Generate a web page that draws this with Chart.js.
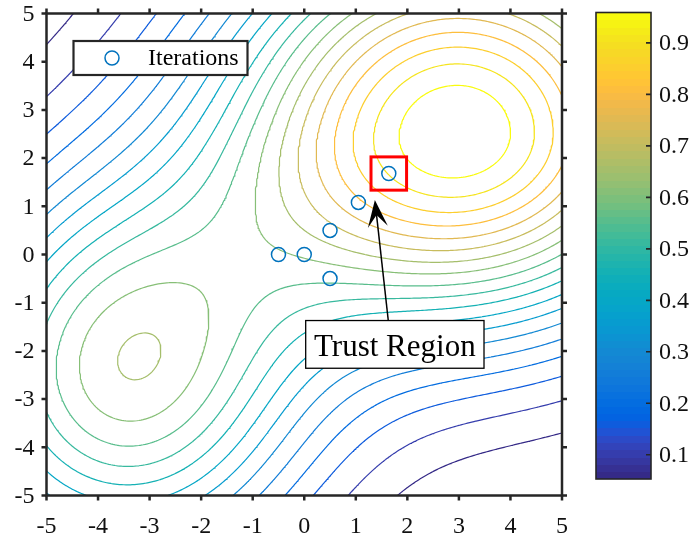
<!DOCTYPE html>
<html>
<head>
<meta charset="utf-8">
<script src="https://cdn.jsdelivr.net/npm/chart.js@4/dist/chart.umd.min.js"></script>
<style>
  html, body { margin: 0; padding: 0; background: #ffffff; }
  #wrap { width: 692px; height: 540px; }
</style>
</head>
<body>
<div id="wrap"><canvas id="c" width="692" height="540"></canvas></div>
<script>
// ---- axes ----
const xTicks = [-5, -4, -3, -2, -1, 0, 1, 2, 3, 4, 5];
const yTicks = [-5, -4, -3, -2, -1, 0, 1, 2, 3, 4, 5];
const colorbarTicks = [0.1, 0.2, 0.3, 0.4, 0.5, 0.6, 0.7, 0.8, 0.9];

// ---- contour levels of the objective ----
const levels = [0.053, 0.103, 0.154, 0.204, 0.254, 0.305, 0.355, 0.405, 0.456, 0.506,
                0.556, 0.607, 0.657, 0.707, 0.757, 0.808, 0.858, 0.908, 0.959];

// ---- objective: two smooth bumps on a small negative base ----
const bumpX      = [3.0, -3.48];
const bumpY      = [2.53, -2.48];
const bumpAmp    = [1.033, 0.655];
const bumpWx     = [22, 13];
const bumpWyUp   = [20.5, 17];
const bumpWyDown = [16.4, 17];
const baseLevel  = -0.03;

// ---- optimiser iterates ----
const iterX = [-0.5, 0, 0.5, 0.5, 1.05, 1.64];
const iterY = [0, 0, 0.5, -0.5, 1.08, 1.68];

// ---- annotation (data coordinates) ----
const trustHalf = 0.345;                      // half side of the trust region around the last iterate
const arrowFrom = { x: 1.63, y: -1.37 };
const arrowTo   = { x: 1.37, y: 1.13 };
const noteBox   = { x0: 0.028, x1: 3.487, y0: -1.37, y1: -2.36, text: 'Trust Region' };

// parula colour map (64 entries)
const PARULA = [
[0.2081,0.1663,0.5292],[0.2116,0.1898,0.5777],[0.2123,0.2138,0.6270],[0.2081,0.2386,0.6771],
[0.1959,0.2645,0.7279],[0.1707,0.2919,0.7792],[0.1253,0.3242,0.8303],[0.0591,0.3598,0.8683],
[0.0117,0.3875,0.8820],[0.0060,0.4086,0.8828],[0.0165,0.4266,0.8786],[0.0329,0.4430,0.8720],
[0.0498,0.4586,0.8641],[0.0629,0.4737,0.8554],[0.0723,0.4887,0.8467],[0.0779,0.5040,0.8384],
[0.0793,0.5200,0.8312],[0.0749,0.5375,0.8263],[0.0641,0.5570,0.8240],[0.0488,0.5772,0.8228],
[0.0343,0.5966,0.8199],[0.0265,0.6137,0.8135],[0.0239,0.6287,0.8038],[0.0231,0.6418,0.7913],
[0.0228,0.6535,0.7768],[0.0267,0.6642,0.7607],[0.0384,0.6743,0.7436],[0.0590,0.6838,0.7254],
[0.0843,0.6928,0.7062],[0.1133,0.7015,0.6859],[0.1453,0.7098,0.6646],[0.1801,0.7177,0.6424],
[0.2178,0.7250,0.6193],[0.2586,0.7317,0.5954],[0.3022,0.7376,0.5712],[0.3482,0.7424,0.5473],
[0.3953,0.7459,0.5244],[0.4420,0.7481,0.5033],[0.4871,0.7491,0.4840],[0.5300,0.7491,0.4661],
[0.5709,0.7485,0.4494],[0.6099,0.7473,0.4337],[0.6473,0.7456,0.4188],[0.6834,0.7435,0.4044],
[0.7184,0.7411,0.3905],[0.7525,0.7384,0.3768],[0.7858,0.7356,0.3633],[0.8185,0.7327,0.3498],
[0.8507,0.7299,0.3360],[0.8824,0.7274,0.3217],[0.9139,0.7258,0.3063],[0.9450,0.7261,0.2886],
[0.9739,0.7314,0.2666],[0.9938,0.7455,0.2403],[0.9990,0.7653,0.2164],[0.9955,0.7861,0.1967],
[0.9880,0.8066,0.1794],[0.9789,0.8271,0.1633],[0.9697,0.8481,0.1475],[0.9626,0.8705,0.1309],
[0.9589,0.8949,0.1132],[0.9598,0.9218,0.0948],[0.9661,0.9514,0.0755],[0.9763,0.9831,0.0538]];

const cMin = levels[0], cMax = levels[levels.length - 1];
function parulaIndex(v) {
  let i = Math.floor((v - cMin) / (cMax - cMin) * PARULA.length);
  return Math.max(0, Math.min(PARULA.length - 1, i));
}
function rgb(c) {
  return 'rgb(' + c.map(u => Math.round(u * 255)).join(',') + ')';
}
function levelColor(v) { return rgb(PARULA[parulaIndex(v)]); }

function surface(x, y) {
  let v = baseLevel;
  for (let k = 0; k < bumpX.length; k++) {
    const dx = x - bumpX[k], dy = y - bumpY[k];
    const wy = dy >= 0 ? bumpWyUp[k] : bumpWyDown[k];
    v += bumpAmp[k] * Math.exp(-dx * dx / bumpWx[k] - dy * dy / wy);
  }
  return v;
}

// sample the surface on a regular grid
const N = 240, X0 = -5, X1 = 5, Y0 = -5, Y1 = 5;
const gx = i => X0 + (X1 - X0) * i / N;
const gy = j => Y0 + (Y1 - Y0) * j / N;
const Z = [];
for (let j = 0; j <= N; j++) {
  const row = new Float64Array(N + 1);
  for (let i = 0; i <= N; i++) row[i] = surface(gx(i), gy(j));
  Z.push(row);
}

// marching squares: returns the polylines of one iso level
function isoLines(level) {
  const pts = new Map(), adj = new Map();
  const link = (a, b) => {
    if (!adj.has(a)) adj.set(a, []);
    if (!adj.has(b)) adj.set(b, []);
    adj.get(a).push(b); adj.get(b).push(a);
  };
  for (let j = 0; j < N; j++) {
    for (let i = 0; i < N; i++) {
      const v = [Z[j][i], Z[j][i + 1], Z[j + 1][i + 1], Z[j + 1][i]];
      const c = [[gx(i), gy(j)], [gx(i + 1), gy(j)], [gx(i + 1), gy(j + 1)], [gx(i), gy(j + 1)]];
      const up = v.map(a => a > level);
      const edges = [
        { a: 0, b: 1, key: 'h' + i + ',' + j },
        { a: 1, b: 2, key: 'v' + (i + 1) + ',' + j },
        { a: 3, b: 2, key: 'h' + i + ',' + (j + 1) },
        { a: 0, b: 3, key: 'v' + i + ',' + j }
      ];
      const hit = [];
      for (let e = 0; e < 4; e++) {
        const E = edges[e];
        if (up[E.a] !== up[E.b]) {
          if (!pts.has(E.key)) {
            const t = (level - v[E.a]) / (v[E.b] - v[E.a]);
            pts.set(E.key, {
              x: c[E.a][0] + t * (c[E.b][0] - c[E.a][0]),
              y: c[E.a][1] + t * (c[E.b][1] - c[E.a][1])
            });
          }
          hit.push(e);
        }
      }
      if (hit.length === 2) {
        link(edges[hit[0]].key, edges[hit[1]].key);
      } else if (hit.length === 4) {
        const centre = (v[0] + v[1] + v[2] + v[3]) / 4 > level;
        if (centre === up[0]) { link(edges[0].key, edges[1].key); link(edges[2].key, edges[3].key); }
        else { link(edges[0].key, edges[3].key); link(edges[1].key, edges[2].key); }
      }
    }
  }
  const used = new Set(), chains = [];
  const walk = start => {
    const chain = [pts.get(start)];
    used.add(start);
    let cur = start;
    for (;;) {
      const next = adj.get(cur).filter(k => !used.has(k));
      if (!next.length) {
        if (chain.length > 2 && adj.get(cur).includes(start)) chain.push(pts.get(start));
        break;
      }
      cur = next[0];
      used.add(cur);
      chain.push(pts.get(cur));
    }
    return chain;
  };
  for (const [k, n] of adj) if (n.length === 1 && !used.has(k)) chains.push(walk(k));
  for (const [k] of adj) if (!used.has(k)) chains.push(walk(k));
  return chains;
}

const datasets = [{
  label: 'Iterations',
  data: iterX.map((x, i) => ({ x, y: iterY[i] })),
  showLine: false,
  pointStyle: 'circle',
  pointRadius: 7,
  pointBorderWidth: 1.5,
  pointBorderColor: '#0072BD',
  pointBackgroundColor: 'rgba(0,0,0,0)',
  order: 0
}];
levels.forEach(L => {
  isoLines(L).forEach(chain => {
    datasets.push({
      label: 'level ' + L,
      data: chain,
      showLine: true,
      pointRadius: 0,
      borderWidth: 1.2,
      borderColor: levelColor(L),
      borderJoinStyle: 'round',
      borderCapStyle: 'round',
      fill: false,
      tension: 0,
      order: 1
    });
  });
});

const FONT = '"Liberation Serif", "Times New Roman", serif';
const INK = '#262626';

const decorations = {
  id: 'decorations',
  afterDatasetsDraw(chart) {
    const ctx = chart.ctx, xs = chart.scales.x, ys = chart.scales.y;
    const X = v => xs.getPixelForValue(v), Y = v => ys.getPixelForValue(v);
    ctx.save();

    // trust region square around the last iterate
    const lx = iterX[iterX.length - 1], ly = iterY[iterY.length - 1];
    ctx.strokeStyle = '#ff0000';
    ctx.lineWidth = 3;
    ctx.strokeRect(X(lx - trustHalf), Y(ly + trustHalf),
                   X(lx + trustHalf) - X(lx - trustHalf), Y(ly - trustHalf) - Y(ly + trustHalf));

    // arrow
    const ax = X(arrowFrom.x), ay = Y(arrowFrom.y), bx = X(arrowTo.x), by = Y(arrowTo.y);
    const len = Math.hypot(bx - ax, by - ay);
    const ux = (bx - ax) / len, uy = (by - ay) / len;
    const px = -uy, py = ux;
    const headLen = 27, headHalf = 10, notch = 15;
    ctx.strokeStyle = '#000';
    ctx.lineWidth = 1.5;
    ctx.beginPath();
    ctx.moveTo(ax, ay);
    ctx.lineTo(bx - ux * notch, by - uy * notch);
    ctx.stroke();
    ctx.fillStyle = '#000';
    ctx.beginPath();
    ctx.moveTo(bx, by);
    ctx.lineTo(bx - ux * headLen + px * headHalf, by - uy * headLen + py * headHalf);
    ctx.lineTo(bx - ux * notch, by - uy * notch);
    ctx.lineTo(bx - ux * headLen - px * headHalf, by - uy * headLen - py * headHalf);
    ctx.closePath();
    ctx.fill();

    // text box
    const tx0 = X(noteBox.x0), tx1 = X(noteBox.x1), ty0 = Y(noteBox.y0), ty1 = Y(noteBox.y1);
    ctx.fillStyle = '#fff';
    ctx.fillRect(tx0, ty0, tx1 - tx0, ty1 - ty0);
    ctx.strokeStyle = '#000';
    ctx.lineWidth = 1.3;
    ctx.strokeRect(tx0, ty0, tx1 - tx0, ty1 - ty0);
    ctx.fillStyle = '#000';
    ctx.font = '31px ' + FONT;
    ctx.textAlign = 'center';
    ctx.textBaseline = 'alphabetic';
    ctx.fillText(noteBox.text, (tx0 + tx1) / 2, ty0 + 35.5);

    // legend
    const it = chart.data.datasets[0];
    const L0 = 73.5, T0 = 41, W = 174, H = 34;
    ctx.fillStyle = '#fff';
    ctx.fillRect(L0, T0, W, H);
    ctx.strokeStyle = INK;
    ctx.lineWidth = 2.2;
    ctx.strokeRect(L0, T0, W, H);
    ctx.strokeStyle = it.pointBorderColor;
    ctx.lineWidth = it.pointBorderWidth;
    ctx.beginPath();
    ctx.arc(L0 + 38.5, T0 + H / 2, it.pointRadius, 0, Math.PI * 2);
    ctx.stroke();
    ctx.fillStyle = '#000';
    ctx.font = '24px ' + FONT;
    ctx.textAlign = 'left';
    ctx.textBaseline = 'middle';
    ctx.fillText(it.label, L0 + 74.5, T0 + H / 2 + 1);
    ctx.restore();
  },
  afterDraw(chart) {
    const ctx = chart.ctx, a = chart.chartArea, xs = chart.scales.x, ys = chart.scales.y;
    ctx.save();
    ctx.strokeStyle = INK;
    ctx.lineWidth = 2.5;
    ctx.strokeRect(a.left, a.top, a.right - a.left, a.bottom - a.top);
    ctx.fillStyle = '#111';
    ctx.font = '24px ' + FONT;
    const tick = 5;
    ctx.beginPath();
    xs.ticks.forEach(t => {
      const p = xs.getPixelForValue(t.value);
      ctx.moveTo(p, a.bottom); ctx.lineTo(p, a.bottom + tick);
      ctx.moveTo(p, a.top); ctx.lineTo(p, a.top - tick);
    });
    ys.ticks.forEach(t => {
      const p = ys.getPixelForValue(t.value);
      ctx.moveTo(a.left, p); ctx.lineTo(a.left - tick, p);
      ctx.moveTo(a.right, p); ctx.lineTo(a.right + tick, p);
    });
    ctx.stroke();
    ctx.textAlign = 'center';
    ctx.textBaseline = 'alphabetic';
    xs.ticks.forEach(t => ctx.fillText(String(t.value), xs.getPixelForValue(t.value), a.bottom + 37.5));
    ctx.textAlign = 'right';
    ctx.textBaseline = 'middle';
    ys.ticks.forEach(t => ctx.fillText(String(t.value), a.left - 12, ys.getPixelForValue(t.value) + 1));

    // colour bar
    const cbL = 596, cbR = 651, cbT = 12.5, cbB = 479;
    const cbY = v => cbB - (v - cMin) / (cMax - cMin) * (cbB - cbT);
    const n = PARULA.length;
    for (let k = 0; k < n; k++) {
      const yb = cbB - (cbB - cbT) * k / n, yt = cbB - (cbB - cbT) * (k + 1) / n;
      ctx.fillStyle = rgb(PARULA[k]);
      ctx.fillRect(cbL, Math.floor(yt), cbR - cbL, Math.ceil(yb) - Math.floor(yt));
    }
    ctx.strokeStyle = INK;
    ctx.lineWidth = 1.6;
    ctx.strokeRect(cbL, cbT, cbR - cbL, cbB - cbT);
    ctx.beginPath();
    colorbarTicks.forEach(v => { const p = cbY(v); ctx.moveTo(cbR, p); ctx.lineTo(cbR - 5, p); });
    ctx.stroke();
    ctx.fillStyle = '#111';
    ctx.textAlign = 'left';
    colorbarTicks.forEach(v => ctx.fillText(v.toFixed(1), 659, cbY(v) + 1));
    ctx.restore();
  }
};

new Chart(document.getElementById('c'), {
  type: 'scatter',
  data: { datasets },
  options: {
    responsive: false,
    animation: false,
    devicePixelRatio: 1,
    layout: { padding: { top: 13.5, right: 130, left: 0, bottom: 0 } },
    plugins: { legend: { display: false }, tooltip: { enabled: false } },
    scales: {
      x: {
        type: 'linear', min: -5, max: 5,
        afterBuildTicks: s => { s.ticks = xTicks.map(v => ({ value: v })); },
        afterFit: s => { s.height = 44.5; },
        ticks: { display: false }, grid: { display: false }, border: { display: false }
      },
      y: {
        type: 'linear', min: -5, max: 5,
        afterBuildTicks: s => { s.ticks = yTicks.map(v => ({ value: v })); },
        afterFit: s => { s.width = 46.5; },
        ticks: { display: false }, grid: { display: false }, border: { display: false }
      }
    }
  },
  plugins: [decorations]
});
</script>
</body>
</html>
